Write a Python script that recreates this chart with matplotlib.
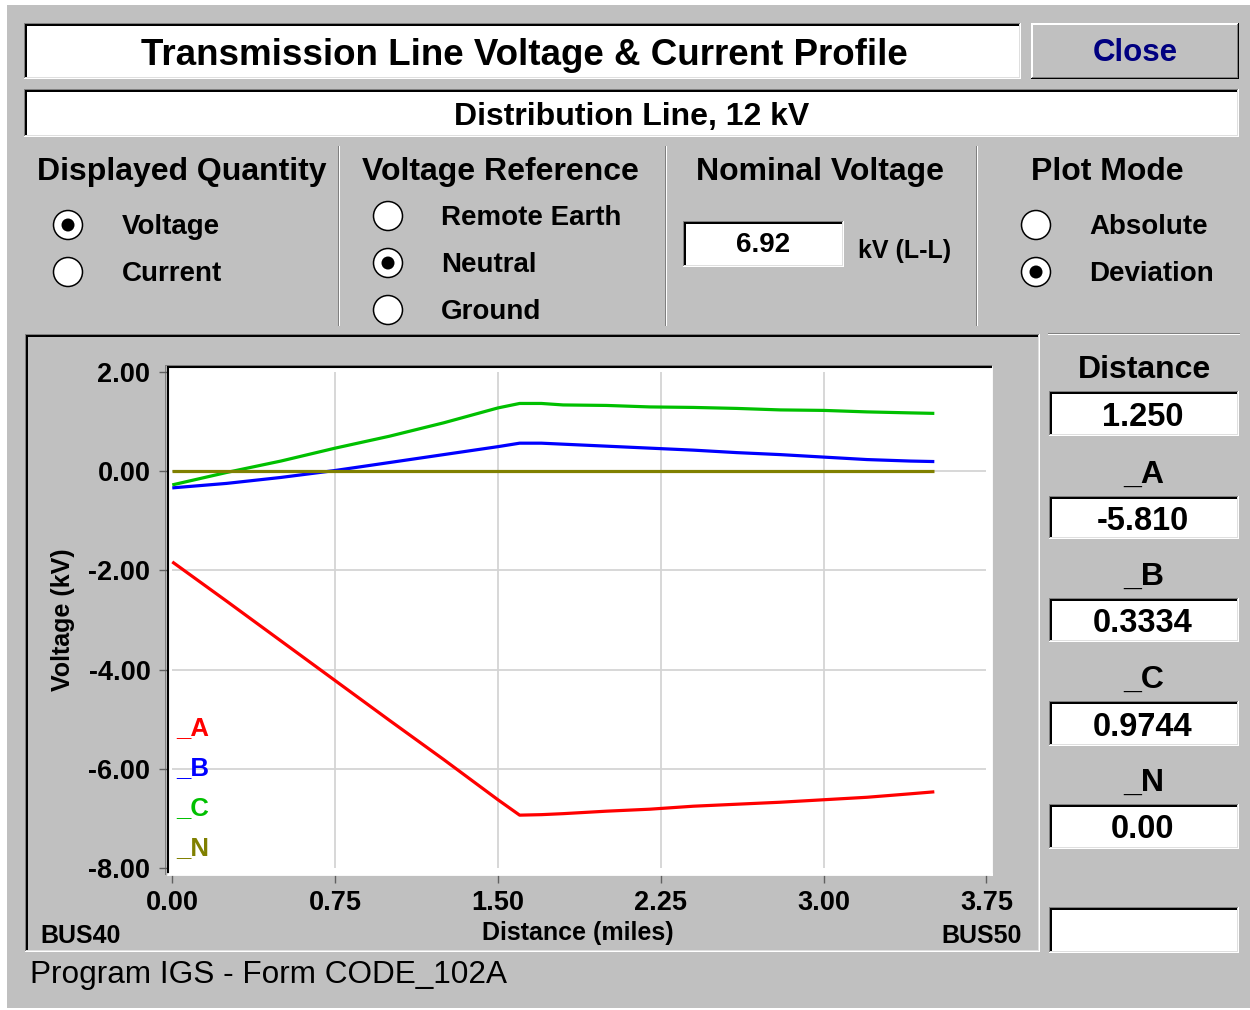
import matplotlib
matplotlib.use("Agg")
import matplotlib.pyplot as plt
from matplotlib.patches import Rectangle, Circle

# ---------------- data ----------------
distance = [0.00, 0.25, 0.50, 0.75, 1.00, 1.25, 1.50, 1.60, 1.70, 1.80,
            2.00, 2.20, 2.40, 2.60, 2.80, 3.00, 3.20, 3.40, 3.51]
phase_a = [-1.83, -2.62, -3.42, -4.22, -5.02, -5.81, -6.62, -6.93, -6.92, -6.90,
           -6.85, -6.81, -6.75, -6.71, -6.67, -6.62, -6.57, -6.50, -6.46]
phase_b = [-0.34, -0.25, -0.13, 0.01, 0.17, 0.33, 0.49, 0.56, 0.56, 0.54,
           0.50, 0.46, 0.42, 0.37, 0.33, 0.28, 0.23, 0.20, 0.19]
phase_c = [-0.28, -0.03, 0.20, 0.46, 0.70, 0.97, 1.27, 1.36, 1.36, 1.33,
           1.32, 1.29, 1.28, 1.26, 1.23, 1.22, 1.19, 1.17, 1.16]
phase_n = [0.00, 0.00, 0.00, 0.00, 0.00, 0.00, 0.00, 0.00, 0.00, 0.00,
           0.00, 0.00, 0.00, 0.00, 0.00, 0.00, 0.00, 0.00, 0.00]
series_names = ["_A", "_B", "_C", "_N"]
series_colors = ["#FF0000", "#0000FF", "#00C000", "#808000"]

x_ticks = [0.00, 0.75, 1.50, 2.25, 3.00, 3.75]
x_tick_labels = ["0.00", "0.75", "1.50", "2.25", "3.00", "3.75"]
y_ticks = [2.0, 0.0, -2.0, -4.0, -6.0, -8.0]
y_tick_labels = ["2.00", "0.00", "-2.00", "-4.00", "-6.00", "-8.00"]

readout_labels = ["Distance", "_A", "_B", "_C", "_N", ""]
readout_values = ["1.250", "-5.810", "0.3334", "0.9744", "0.00", ""]

displayed_options = ["Voltage", "Current"]
reference_options = ["Remote Earth", "Neutral", "Ground"]
mode_options = ["Absolute", "Deviation"]
nominal_voltage = "6.92"

FONT = ["Liberation Sans", "DejaVu Sans"]
plt.rcParams["font.family"] = FONT
GRAY = "#C0C0C0"

W, H = 1250, 1010
fig = plt.figure(figsize=(W / 100, H / 100), dpi=100)
fig.patch.set_facecolor("white")

bg = fig.add_axes([0, 0, 1, 1], zorder=0)
bg.set_xlim(0, W)
bg.set_ylim(H, 0)
bg.axis("off")


def rect(x0, y0, x1, y1, color):
    bg.add_patch(Rectangle((x0, y0), x1 - x0, y1 - y0, facecolor=color,
                           edgecolor="none", lw=0, antialiased=False))


def sunken(x0, y0, x1, y1, fill="white"):
    if fill:
        rect(x0, y0, x1, y1, fill)
    rect(x0, y0, x1, y0 + 1, "#808080")
    rect(x0, y0, x0 + 1, y1, "#808080")
    rect(x0 + 1, y0 + 1, x1 - 1, y0 + 3, "black")
    rect(x0 + 1, y0 + 1, x0 + 3, y1 - 1, "black")
    rect(x0, y1 - 1, x1, y1, "white")
    rect(x1 - 1, y0, x1, y1, "white")
    rect(x0 + 1, y1 - 2, x1 - 1, y1 - 1, "#DFDFDF")
    rect(x1 - 2, y0 + 1, x1 - 1, y1 - 1, "#DFDFDF")


def raised(x0, y0, x1, y1):
    rect(x0, y0, x1, y1, GRAY)
    rect(x0, y0, x1, y0 + 2, "white")
    rect(x0, y0, x0 + 2, y1, "white")
    rect(x0, y1 - 1, x1, y1, "black")
    rect(x1 - 1, y0, x1, y1, "black")
    rect(x0 + 1, y1 - 2, x1 - 1, y1 - 1, "#808080")
    rect(x1 - 2, y0 + 1, x1 - 1, y1 - 1, "#808080")


def txt(x, y, s, size, ha="left", weight="bold", color="black", **kw):
    bg.text(x, y, s, fontsize=size, ha=ha, va="baseline", fontweight=weight,
            color=color, family=FONT, **kw)


def radio(cx, cy, selected):
    bg.add_patch(Circle((cx, cy), 14.5, facecolor="white", edgecolor="black", lw=1.1))
    if selected:
        bg.add_patch(Circle((cx, cy), 6.5, facecolor="black", edgecolor="none"))


# window background
rect(7, 5, W, 1008, GRAY)

# title, close button, subtitle
sunken(24, 23, 1021, 79)
txt(524, 65, "Transmission Line Voltage & Current Profile", 26.5, ha="center")
raised(1031, 23, 1239, 79)
txt(1135, 61, "Close", 22.5, ha="center", color="#000080")
sunken(24, 89, 1239, 137)
txt(632, 125, "Distribution Line, 12 kV", 23, ha="center")

# option groups
for sx in (338, 665, 976):
    rect(sx, 146, sx + 1, 326, "#808080")
    rect(sx + 1, 146, sx + 2, 326, "white")

txt(182, 180, "Displayed Quantity", 23, ha="center")
txt(500, 180, "Voltage Reference", 23, ha="center")
txt(820, 180, "Nominal Voltage", 23, ha="center")
txt(1107, 180, "Plot Mode", 23, ha="center")

for i, name in enumerate(displayed_options):
    cy = 225 + 47 * i
    radio(68, cy, i == 0)
    txt(122, cy + 9, name, 20)
for i, name in enumerate(reference_options):
    cy = 216 + 47 * i
    radio(388, cy, i == 1)
    txt(441, cy + 9, name, 20)
for i, name in enumerate(mode_options):
    cy = 225 + 47 * i
    radio(1036, cy, i == 1)
    txt(1089, cy + 9, name, 20)

sunken(683, 221, 844, 267)
txt(763, 252, nominal_voltage, 20, ha="center")
txt(858, 258, "kV (L-L)", 18)

# plot panel
sunken(25, 334, 1040, 952, fill=None)
rect(1048, 333, 1240, 334, "#808080")
rect(1048, 334, 1240, 335, "white")
rect(165, 365, 992, 366, "#808080")
rect(165, 365, 166, 875, "#808080")

# readout panel
box_tops = [391, 496, 598, 701, 804, 907]
box_bottoms = [436, 539, 642, 746, 849, 953]
for lab, val, t, b in zip(readout_labels, readout_values, box_tops, box_bottoms):
    sunken(1049, t, 1239, b)
    if lab:
        txt(1144, t - 13, lab, 23, ha="center")
    if val:
        txt(1143, (t + b) / 2 + 12, val, 23.5, ha="center")

# axis decorations
txt(40, 943, "BUS40", 18)
txt(1022, 943, "BUS50", 18, ha="right")
txt(578, 940, "Distance (miles)", 18, ha="center")
bg.text(70, 620, "Voltage (kV)", fontsize=18, fontweight="bold", rotation=90,
        rotation_mode="anchor", ha="center", va="baseline", family=FONT)
txt(30, 983, "Program IGS - Form CODE_102A", 22.7, weight="normal")

# ---------------- chart ----------------
left, right, top, bottom = 167.5, 991, 367, 874
ax = fig.add_axes([left / W, 1 - bottom / H, (right - left) / W, (bottom - top) / H], zorder=2)
ax.set_facecolor("white")

ax.hlines(y_ticks[1:-1], x_ticks[0], x_ticks[-1], colors="#D4D4D4", lw=1.3, zorder=1)
ax.vlines(x_ticks[1:-1], y_ticks[-1], y_ticks[0], colors="#D4D4D4", lw=1.3, zorder=1)

for vals, col in zip([phase_a, phase_b, phase_c, phase_n], series_colors):
    ax.plot(distance, vals, color=col, lw=2.3, solid_joinstyle="round",
            solid_capstyle="butt", zorder=3)

ax.set_xlim(-0.022, 3.771)
ax.set_ylim(-8.115, 2.094)
ax.set_xticks(x_ticks)
ax.set_xticklabels(x_tick_labels)
ax.set_yticks(y_ticks)
ax.set_yticklabels(y_tick_labels)
ax.tick_params(axis="both", direction="out", length=6.3, width=1, color="#606060",
               labelsize=19.5)
ax.tick_params(axis="x", pad=5)
ax.tick_params(axis="y", pad=6)
for lab in ax.get_xticklabels() + ax.get_yticklabels():
    lab.set_fontweight("bold")

ax.spines["left"].set_color("black")
ax.spines["top"].set_color("black")
ax.spines["left"].set_linewidth(1.5)
ax.spines["top"].set_linewidth(1.5)
ax.spines["right"].set_color("white")
ax.spines["bottom"].set_color("white")
ax.spines["right"].set_linewidth(2)
ax.spines["bottom"].set_linewidth(2)

# in-plot series labels
for i, (name, col) in enumerate(zip(series_names, series_colors)):
    ax.text(176, 735 + 40 * i, name, transform=bg.transData, color=col,
            fontsize=18.5, fontweight="bold", ha="left", va="baseline", family=FONT,
            zorder=5)

fig.savefig("out.png", dpi=100, facecolor=fig.get_facecolor())
